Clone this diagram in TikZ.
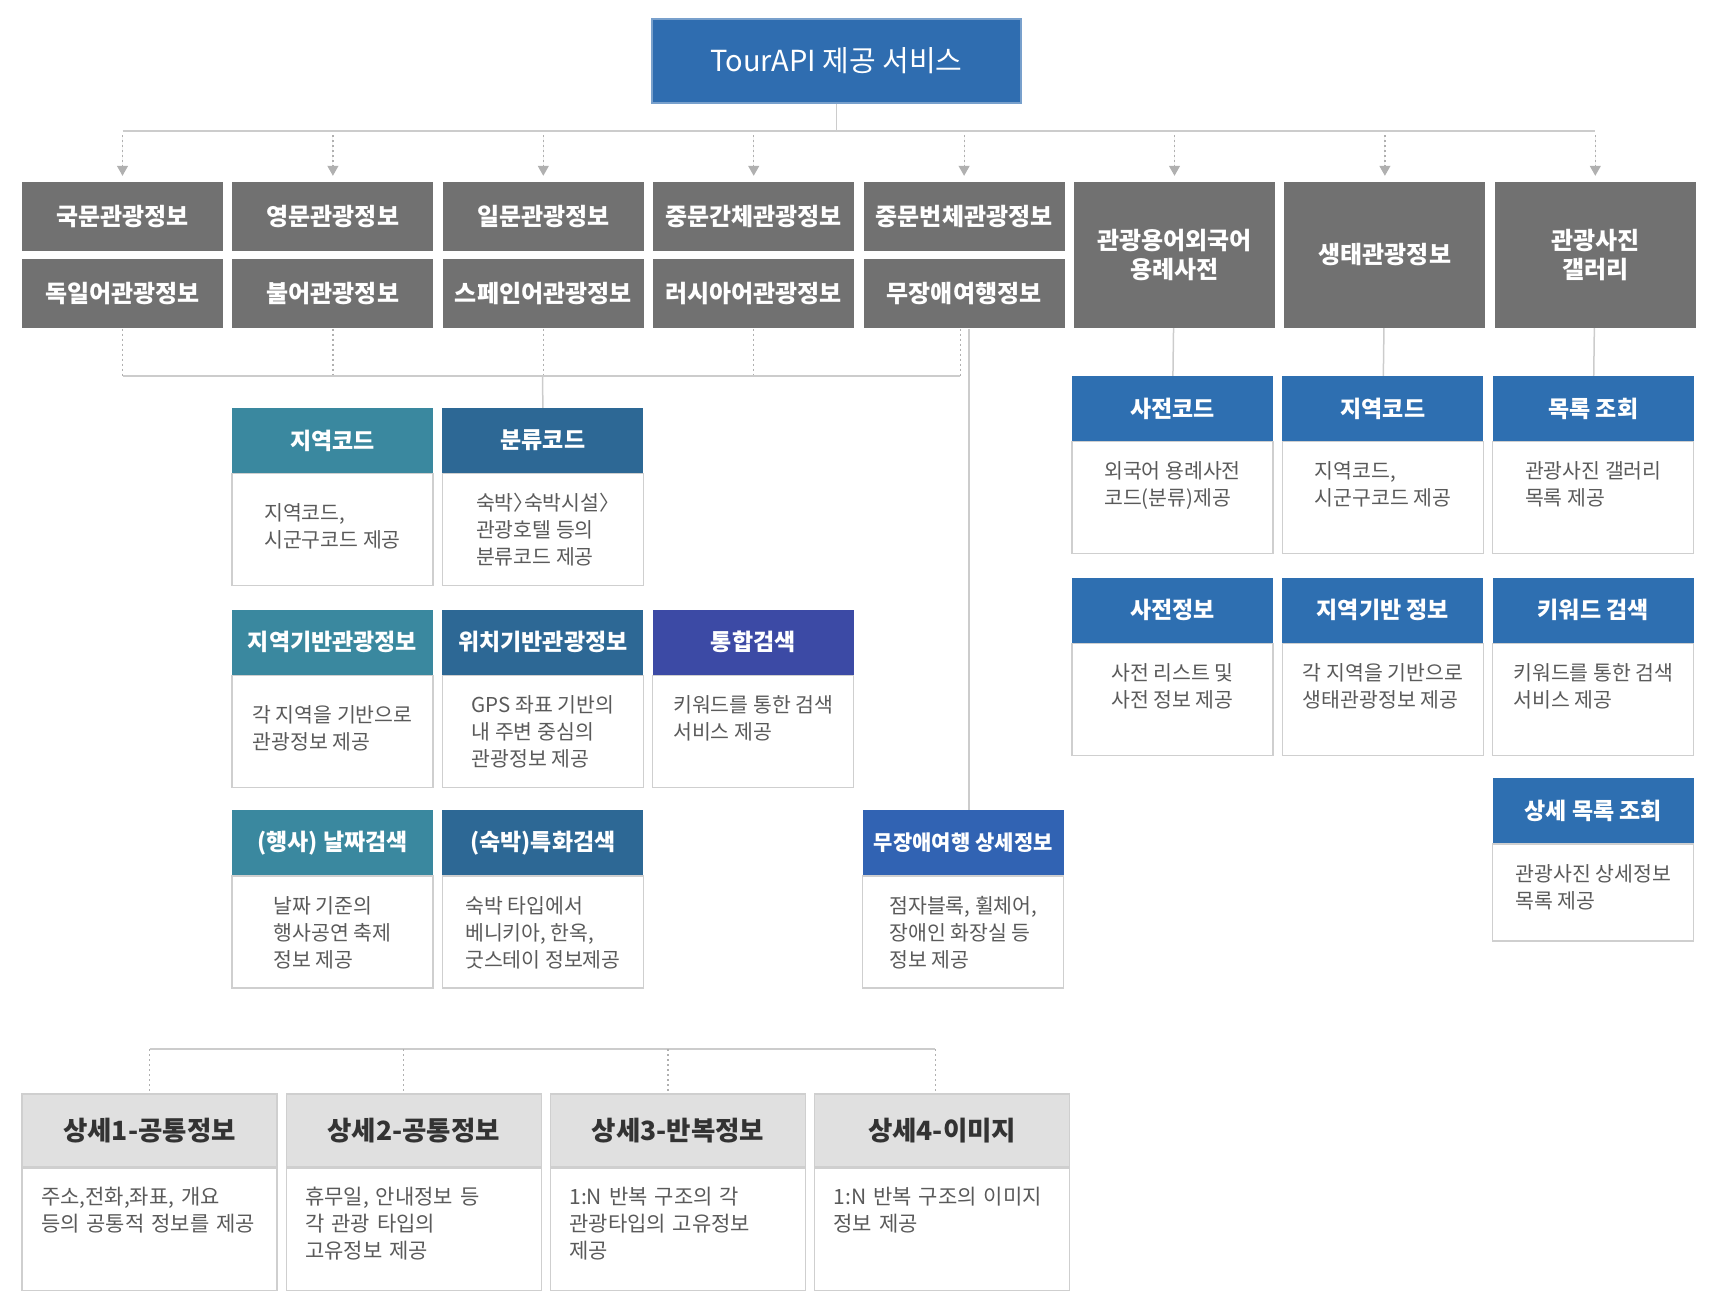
\documentclass[tikz,border=0pt]{standalone}
\usepackage{fontspec}
\setmainfont{Noto Sans CJK KR}
\usepackage{tikz}
\usetikzlibrary{positioning,arrows.meta}
\definecolor{TAblue}{HTML}{2F6DB0}
\definecolor{TAgray}{HTML}{717171}
\definecolor{TAteal}{HTML}{3A889F}
\definecolor{TAsteel}{HTML}{2D6895}
\definecolor{TAindigo}{HTML}{3C4AA5}
\definecolor{TAroyal}{HTML}{3163B3}
\definecolor{TAright}{HTML}{2E6FB1}
\definecolor{TAlight}{HTML}{E0E0E0}
\definecolor{TAdark}{HTML}{333333}
\definecolor{TAline}{HTML}{CFCFCF}
\definecolor{TAtext}{HTML}{5A5A5A}
\definecolor{TAconn}{HTML}{CCCCCC}
\definecolor{TAdot}{HTML}{B0B0B0}
\newcommand{\headfont}{\fontsize{23}{27}\selectfont\bfseries}
\newcommand{\bodyfont}{\fontsize{20.5}{27}\selectfont}
\newcommand{\bodylines}[1]{\begin{tabular}[t]{@{}l@{}}#1\end{tabular}}
\newcommand{\catsep}{〉\kern-0.5em}
\tikzset{
  topbox/.style={fill=TAblue, draw=TAblue!65!white, line width=1.5pt, minimum width=369pt, minimum height=84pt, inner sep=0pt, text=white, font=\fontsize{29}{32}\selectfont},
  graybox/.style={fill=TAgray, text=white, minimum width=201pt, minimum height=69pt, inner sep=0pt, align=center, font=\fontsize{24}{29}\selectfont\bfseries},
  cardhead/.style={fill=#1, text=white, minimum width=201pt, minimum height=65pt, inner sep=0pt, font=\headfont},
  cardbody/.style={draw=TAline, line width=1.2pt, fill=white, minimum width=201pt, inner xsep=0pt, inner ysep=0pt, text=TAtext, font=\bodyfont, text height=37pt, text depth=75pt},
  dethead/.style={fill=TAlight, draw=TAline, line width=1.2pt, text=TAdark, minimum width=255pt, minimum height=73pt, inner sep=0pt, font=\fontsize{26.5}{30}\selectfont\bfseries},
  detbody/.style={draw=TAline, line width=1.2pt, fill=white, text width=217pt, inner xsep=19pt, inner ysep=0pt, align=left, text=TAtext, font=\fontsize{21}{27}\selectfont, text height=36pt, text depth=86pt},
  busline/.style={draw=TAconn, line width=2.2pt},
  conn/.style={draw=TAconn, line width=1.5pt},
  dotline/.style={draw=TAdot, line width=1.2pt, dash pattern=on 2pt off 3pt},
  dotarr/.style={dotline, -{Triangle[width=11pt,length=10pt]}, fill=TAdot, shorten >=6pt, shorten <=4pt}
}

\begin{document}
\begin{tikzpicture}[x=1pt, y=-1pt, node distance=9pt]
\useasboundingbox (0,0) rectangle (1722,1314);
% top service box
\node[topbox] (api) at (836.5,61) {TourAPI 제공 서비스};
\coordinate (bus) at (836.5,131);
% language and theme boxes
\node[graybox] (kor) at (122.5,216.5) {국문관광정보};
\node[graybox, right=of kor] (eng) {영문관광정보};
\node[graybox, right=of eng] (jpn) {일문관광정보};
\node[graybox, right=of jpn] (chs) {중문간체관광정보};
\node[graybox, right=of chs] (cht) {중문번체관광정보};
\node[graybox, below=8pt of kor] (ger) {독일어관광정보};
\node[graybox, right=of ger] (fre) {불어관광정보};
\node[graybox, right=of fre] (spa) {스페인어관광정보};
\node[graybox, right=of spa] (rus) {러시아어관광정보};
\node[graybox, right=of rus] (bf) {무장애여행정보};
\node[graybox, minimum height=146pt, right=of cht.north east, anchor=north west] (dict) {관광용어외국어\\용례사전};
\node[graybox, minimum height=146pt, right=of dict] (eco) {생태관광정보};
\node[graybox, minimum height=146pt, right=of eco] (photo) {관광사진\\갤러리};

\draw[conn] (api) -- (api.south |- bus);
\draw[busline] (kor.north |- bus) -- (photo.north |- bus);
\draw[dotarr] (kor.north |- bus) -- (kor.north);
\draw[dotarr] (eng.north |- bus) -- (eng.north);
\draw[dotarr] (jpn.north |- bus) -- (jpn.north);
\draw[dotarr] (chs.north |- bus) -- (chs.north);
\draw[dotarr] (cht.north |- bus) -- (cht.north);
\draw[dotarr] (dict.north |- bus) -- (dict.north);
\draw[dotarr] (eco.north |- bus) -- (eco.north);
\draw[dotarr] (photo.north |- bus) -- (photo.north);

% common operations
\node[cardhead=TAteal] (acodeH) at (332.5,440.5) {지역코드};
\node[cardbody, below=0pt of acodeH, text height=47pt, text depth=65pt] (acodeB) {\bodylines{지역코드,\\시군구코드 제공}};
\node[cardhead=TAsteel, right=of acodeH] (ccodeH) {분류코드};
\node[cardbody, below=0pt of ccodeH] (ccodeB) {\bodylines{숙박\catsep 숙박시설\catsep\\관광호텔 등의\\분류코드 제공}};
\node[cardhead=TAteal, below=23pt of acodeB] (areaH) {지역기반관광정보};
\node[cardbody, below=0pt of areaH, text height=47pt, text depth=65pt] (areaB) {\bodylines{각 지역을 기반으로\\관광정보 제공}};
\node[cardhead=TAsteel, right=of areaH] (locH) {위치기반관광정보};
\node[cardbody, below=0pt of locH] (locB) {\bodylines{GPS 좌표 기반의\\내 주변 중심의\\관광정보 제공}};
\node[cardhead=TAindigo, right=of locH] (srchH) {통합검색};
\node[cardbody, below=0pt of srchH] (srchB) {\bodylines{키워드를 통한 검색\\서비스 제공}};
\node[cardhead=TAteal, below=22pt of areaB] (dateH) {(행사) 날짜검색};
\node[cardbody, below=0pt of dateH] (dateB) {\bodylines{날짜 기준의\\행사공연 축제\\정보 제공}};
\node[cardhead=TAsteel, right=of dateH] (stayH) {(숙박)특화검색};
\node[cardbody, below=0pt of stayH] (stayB) {\bodylines{숙박 타입에서\\베니키아, 한옥,\\굿스테이 정보제공}};
\node[cardhead=TAroyal, right=219pt of stayH, font=\fontsize{21}{25}\selectfont\bfseries] (bfH) {무장애여행 상세정보};
\node[cardbody, below=0pt of bfH] (bfB) {\bodylines{점자블록, 휠체어,\\장애인 화장실 등\\정보 제공}};

\coordinate (lbus) at (542.5,376);
\draw[dotline] (ger.south) -- (ger.south |- lbus);
\draw[dotline] (fre.south) -- (fre.south |- lbus);
\draw[dotline] (spa.south) -- (spa.south |- lbus);
\draw[dotline] (rus.south) -- (rus.south |- lbus);
\draw[dotline] ([xshift=-4pt]bf.south) -- ([xshift=-4pt]bf.south |- lbus);
\draw[busline] (ger.south |- lbus) -- ([xshift=-4pt]bf.south |- lbus);
\draw[conn] (lbus) -- (ccodeH.north);
\draw[conn] ([xshift=5pt]bf.south) -- ([xshift=5pt]bf.south |- bfH.north);

% dictionary, eco and photo operations
\node[cardhead=TAright] (dcodeH) at (1172.5,408.5) {사전코드};
\node[cardbody, below=0pt of dcodeH] (dcodeB) {\bodylines{외국어 용례사전\\코드(분류)제공}};
\node[cardhead=TAright, right=of dcodeH] (ecodeH) {지역코드};
\node[cardbody, below=0pt of ecodeH] (ecodeB) {\bodylines{지역코드,\\시군구코드 제공}};
\node[cardhead=TAright, right=of ecodeH] (plistH) {목록 조회};
\node[cardbody, below=0pt of plistH] (plistB) {\bodylines{관광사진 갤러리\\목록 제공}};
\node[cardhead=TAright, below=23pt of dcodeB] (dinfoH) {사전정보};
\node[cardbody, below=0pt of dinfoH] (dinfoB) {\bodylines{사전 리스트 및\\사전 정보 제공}};
\node[cardhead=TAright, right=of dinfoH] (eareaH) {지역기반 정보};
\node[cardbody, below=0pt of eareaH] (eareaB) {\bodylines{각 지역을 기반으로\\생태관광정보 제공}};
\node[cardhead=TAright, right=of eareaH] (kwH) {키워드 검색};
\node[cardbody, below=0pt of kwH] (kwB) {\bodylines{키워드를 통한 검색\\서비스 제공}};
\node[cardhead=TAright, below=22pt of kwB] (pdetH) {상세 목록 조회};
\node[cardbody, below=0pt of pdetH, text depth=60pt] (pdetB) {\bodylines{관광사진 상세정보\\목록 제공}};

\draw[conn] (dict) -- (dcodeH);
\draw[conn] (eco) -- (ecodeH);
\draw[conn] (photo) -- (plistH);

% detail operations
\node[dethead] (d1H) at (149.5,1130.5) {상세1-공통정보};
\node[detbody, below=0pt of d1H] (d1B) {주소,전화,좌표, 개요\\등의 공통적 정보를 제공};
\node[dethead, right=8pt of d1H] (d2H) {상세2-공통정보};
\node[detbody, below=0pt of d2H] (d2B) {휴무일, 안내정보 등\\각 관광 타입의\\고유정보 제공};
\node[dethead, right=8pt of d2H] (d3H) {상세3-반복정보};
\node[detbody, below=0pt of d3H] (d3B) {1:N 반복 구조의 각\\관광타입의 고유정보\\제공};
\node[dethead, right=8pt of d3H] (d4H) {상세4-이미지};
\node[detbody, below=0pt of d4H] (d4B) {1:N 반복 구조의 이미지\\정보 제공};

\coordinate (dbus) at (0,1049);
\draw[busline] (d1H.north |- dbus) -- ([xshift=-7pt]d4H.north |- dbus);
\draw[dotline] (d1H.north |- dbus) -- (d1H.north);
\draw[dotline] ([xshift=-10pt]d2H.north |- dbus) -- ([xshift=-10pt]d2H.north);
\draw[dotline] ([xshift=-10pt]d3H.north |- dbus) -- ([xshift=-10pt]d3H.north);
\draw[dotline] ([xshift=-7pt]d4H.north |- dbus) -- ([xshift=-7pt]d4H.north);
\end{tikzpicture}
\end{document}
